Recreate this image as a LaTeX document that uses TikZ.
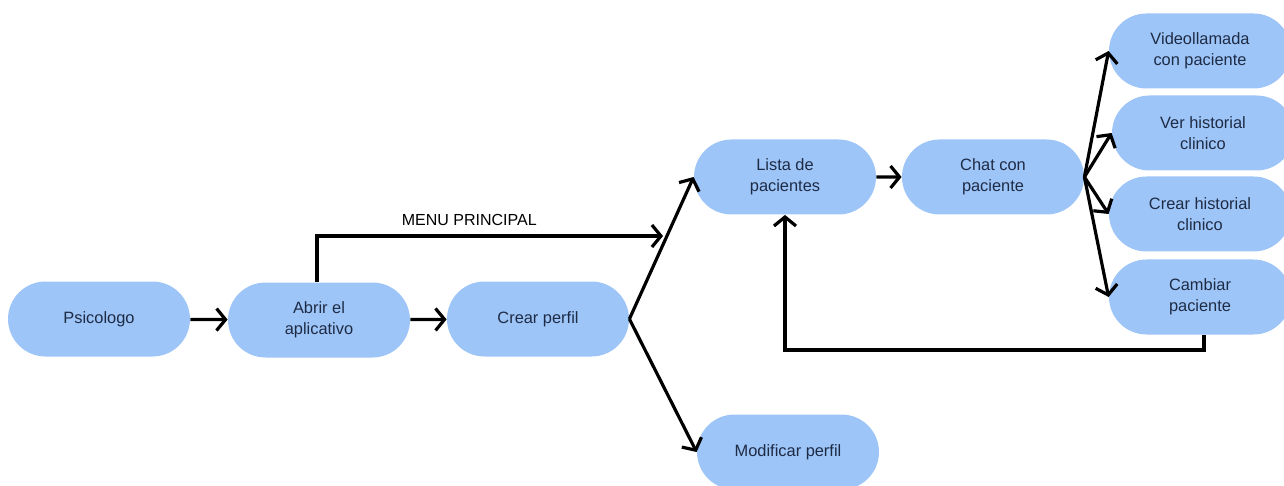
\documentclass[tikz,border=0pt]{standalone}
\usepackage{fontspec}
\setmainfont{Liberation Sans}
\usetikzlibrary{shapes.misc,arrows.meta}
\definecolor{pillblue}{HTML}{9EC5F8}
\definecolor{pilltext}{HTML}{1E2B45}

\begin{document}
\begin{tikzpicture}[x=0.5pt,y=-0.5pt,
    pill/.style={rounded rectangle, fill=pillblue, minimum width=91pt, minimum height=37.5pt,
        align=center, text=pilltext, inner sep=0pt, font=\fontsize{8.2}{10.5}\selectfont},
    flow/.style={line width=1.6pt, -{Straight Barb[length=4.5pt,width=11pt,line width=1.6pt]}}]
        \useasboundingbox (0,0) rectangle (1284,486);
        \node[pill] (psico) at (99,319) {Psicologo};
        \node[pill] (abrir) at (319,320) {Abrir el\\aplicativo};
        \node[pill] (crear) at (538,319) {Crear perfil};
        \node[pill] (lista) at (785,177) {Lista de\\pacientes};
        \node[pill] (chat) at (993,177) {Chat con\\paciente};
        \node[pill] (modif) at (788,452) {Modificar perfil};
        \node[pill] (video) at (1200,51) {Videollamada\\con paciente};
        \node[pill] (verhist) at (1203,133) {Ver historial\\clinico};
        \node[pill] (crearhist) at (1200,214) {Crear historial\\clinico};
        \node[pill] (cambiar) at (1200,297) {Cambiar\\paciente};
        \coordinate (menuend) at (663,236);
        \draw[flow] (psico) -- (abrir);
        \draw[flow] (abrir) -- (crear);
        \draw[flow] (crear.east) -- (lista.west);
        \draw[flow] (crear.east) -- (modif.west);
        \draw[flow] (lista) -- (chat);
        \draw[flow] (chat.east) -- (video.west);
        \draw[flow] (chat.east) -- (verhist.west);
        \draw[flow] (chat.east) -- (crearhist.west);
        \draw[flow] (chat.east) -- (cambiar.west);
        \draw[flow] ([xshift=2pt]cambiar.south) -- ++(0,15) -| (lista.south);
        \draw[flow] ([xshift=-1pt]abrir.north) |- (menuend)
            node[pos=0.72, above=1pt, text=black, font=\fontsize{8}{10}\selectfont]{MENU PRINCIPAL};
    \end{tikzpicture}
\end{document}
